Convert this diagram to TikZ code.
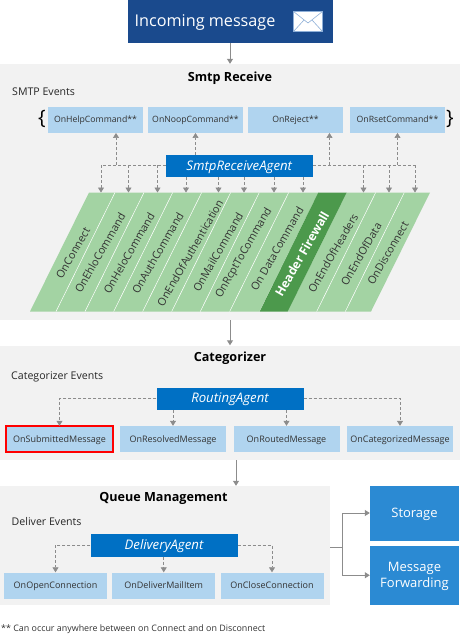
\documentclass[tikz,border=0pt]{standalone}
\usepackage{fontspec}
\setmainfont{Open Sans}
\usetikzlibrary{arrows.meta,calc}
\definecolor{navy}{HTML}{1A4A8D}
\definecolor{panelgray}{HTML}{F2F2F2}
\definecolor{evtblue}{HTML}{B0D4EF}
\definecolor{agentblue}{HTML}{0070C4}
\definecolor{sinkblue}{HTML}{2B8AD3}
\definecolor{cellgreen}{HTML}{A3D3A3}
\definecolor{fwgreen}{HTML}{4C994C}
\definecolor{linegray}{HTML}{8C8C8C}
\definecolor{envline}{HTML}{8FB0D8}
\tikzset{
  panel/.style={fill=panelgray,draw=none,inner sep=0pt},
  title/.style={font=\fontsize{12.6}{14}\selectfont\bfseries,text=black,inner sep=0pt},
  sub/.style={font=\fontsize{10.6}{12}\selectfont,text=black!85,anchor=west,inner sep=0pt},
  evt/.style={fill=evtblue,draw=none,minimum height=26pt,inner sep=0pt,text height=7pt,text depth=1pt,font=\fontsize{9}{10}\selectfont,text=black!80},
  agent/.style={fill=agentblue,draw=none,minimum height=22.5pt,minimum width=147pt,inner sep=0pt,text height=9pt,text depth=1pt,font=\fontsize{13.2}{15}\selectfont\itshape,text=white},
  sink/.style={fill=sinkblue,draw=none,minimum width=89pt,inner sep=0pt,align=center,text depth=0pt,font=\fontsize{13}{16}\selectfont,text=white},
  celltext/.style={rotate=60,inner sep=0pt,font=\fontsize{10.8}{12}\selectfont,text=black!80},
  dashline/.style={draw=linegray,densely dashed,line width=0.7pt},
  dasharrow/.style={dashline,-{Triangle[width=6pt,length=5pt,fill=linegray]}},
  flow/.style={draw=linegray,line width=1pt,-{Triangle[width=6pt,length=5pt,fill=linegray]}},
  flowplain/.style={draw=linegray,line width=1pt},
}
\begin{document}
\begin{tikzpicture}[x=1pt,y=-1pt]
\useasboundingbox (0,0) rectangle (460,640);
% panels
\node[panel,minimum width=460pt,minimum height=256pt] (p1) at (230,192) {};
\node[panel,minimum width=460pt,minimum height=114.5pt] (p2) at (230,402.75) {};
\node[panel,minimum width=330pt,minimum height=119pt] (p3) at (165,545.5) {};
% incoming
\node[fill=navy,minimum width=205pt,minimum height=43pt,inner sep=0pt] (in) at (230,21.5) {};
\node[anchor=west,inner sep=0pt,text=white,font=\fontsize{16.2}{18}\selectfont] (intext) at (134.5,22.5) {Incoming message};
\draw[fill=white,draw=envline,line width=0.6pt] (293.5,11.5) rectangle (322.5,31.5);
\draw[draw=envline,line width=0.6pt] (293.5,11.5) -- (308,23) -- (322.5,11.5) (293.5,31.5) -- (304,20) (322.5,31.5) -- (312,20);
% Smtp Receive
\node[title] (t1) at (230,78) {Smtp Receive};
\node[sub] (s1) at (12,92) {SMTP Events};
\node[evt,minimum width=95pt,font=\fontsize{8.7}{10}\selectfont] (help) at (95.5,119.75) {OnHelpCommand**};
\node[evt,minimum width=95pt,font=\fontsize{8.7}{10}\selectfont] (noop) at (195.5,119.75) {OnNoopCommand**};
\node[evt,minimum width=95pt,font=\fontsize{8.7}{10}\selectfont] (rej) at (295.5,119.75) {OnReject**};
\node[evt,minimum width=95pt,font=\fontsize{8.7}{10}\selectfont] (rset) at (397.5,119.75) {OnRsetCommand**};
\node[inner sep=0pt,font=\fontsize{20}{22}\selectfont] (lb) at (42,119) {\{};
\node[inner sep=0pt,font=\fontsize{20}{22}\selectfont] (rb) at (450,119) {\}};
\node[agent] (sra) at (239.25,166) {SmtpReceiveAgent};
% green cells
\foreach \a/\b in {89/115,115/144,144/172.7,172.7/201.7,201.7/230.7,230.7/259.3,259.3/288.7,288.7/318.3,346.7/375.7,375.7/404.3,404.3/430}
  \fill[cellgreen] (\a,192.5) -- (\b,192.5) -- ({\b-59},311.5) -- ({\a-59},311.5) -- cycle;
\fill[fwgreen] (318.3,192.5) -- (346.7,192.5) -- (287.7,311.5) -- (259.7,311.5) -- cycle;
\foreach \a in {115,144,172.7,201.7,230.7,259.3,288.7,375.7,404.3}
  \draw[white,line width=0.5pt] (\a,192.5) -- ({\a-59},311.5);
\node[celltext] (c1) at (73,253) {OnConnect};
\node[celltext] (c2) at (100,253) {OnEhloCommand};
\node[celltext] (c3) at (129,253) {OnHeloCommand};
\node[celltext] (c4) at (157.7,253) {OnAuthCommand};
\node[celltext] (c5) at (190,253) {OnEndOfAuthentication};
\node[celltext] (c6) at (218,252) {OnMailCommand};
\node[celltext] (c7) at (244,253) {OnRcptToCommand};
\node[celltext] (c8) at (277,249) {On DataCommand};
\node[celltext,text=white,font=\fontsize{12.2}{14}\selectfont\bfseries] (c9) at (302,254) {Header Firewall};
\node[celltext] (c10) at (333,253) {OnEndOfHeaders};
\node[celltext] (c11) at (361,254) {OnEndOfData};
\node[celltext] (c12) at (388,253) {OnDisconnect};
% top-edge targets
\foreach \n/\x in {a/101,b/128.5,c/157.5,d/186,e/218.5,f/244,g/274,h/303,i/363.5,j/389,k/415}
  \coordinate (top\n) at (\x,192.5);
\coordinate (busl) at (101,165);
\coordinate (busr) at (415,165);
\coordinate (tapl) at (116,165);
\coordinate (tapr) at (329.5,165);
% SMTP connectors
\draw[dashline] (sra.west |- busl) -- (busl);
\draw[dashline] (sra.east |- busr) -- (busr);
\draw[dasharrow] (tapl) -- (tapl |- help.south);
\draw[dasharrow] (sra.north -| noop) -- (noop.south);
\draw[dasharrow] (tapr) -- (tapr |- rej.south);
\draw[dasharrow] (rset.south |- busr) -- (rset.south);
\foreach \n in {a,b,c,i,j,k}
  \draw[dasharrow] (top\n |- busl) -- (top\n);
\foreach \n in {d,e,f,g,h}
  \draw[dasharrow] (sra.south -| top\n) -- (top\n);
% flow arrows
\draw[flow] (in.south) -- (in.south |- p1.north);
\draw[flow] (p1.south) -- (p2.north);
% Categorizer
\node[title] (t2) at (230,358.5) {Categorizer};
\node[sub] (s2) at (11,376.5) {Categorizer Events};
\node[agent] (ra) at (230,398.75) {RoutingAgent};
\node[evt,minimum width=106pt] (sub) at (59.5,439) {OnSubmittedMessage};
\draw[red,line width=2pt] (sub.south west) rectangle (sub.north east);
\node[evt,minimum width=106pt] (res) at (173,439) {OnResolvedMessage};
\node[evt,minimum width=106pt] (rou) at (286.5,439) {OnRoutedMessage};
\node[evt,minimum width=106pt] (cat) at (400,439) {OnCategorizedMessage};
\draw[dasharrow] (ra.west) -| (sub.north);
\draw[dasharrow] (ra.east) -| (cat.north);
\draw[dasharrow] (ra.south -| res) -- (res.north);
\draw[dasharrow] (ra.south -| rou) -- (rou.north);
\coordinate (p2out) at (236,460);
\draw[flow] (p2out) -- (p2out |- p3.north);
% Queue
\node[title] (t3) at (163.5,498.5) {Queue Management};
\node[sub] (s3) at (11.5,521.5) {Deliver Events};
\node[agent] (da) at (164,545.25) {DeliveryAgent};
\node[evt,minimum width=103pt] (op) at (55.5,585.5) {OnOpenConnection};
\node[evt,minimum width=103pt] (del) at (163.75,585.5) {OnDeliverMailItem};
\node[evt,minimum width=103pt] (cl) at (272,585.5) {OnCloseConnection};
\draw[dasharrow] (da.west) -| (op.north);
\draw[dasharrow] (da.east) -| (cl.north);
\draw[dasharrow] (da.south -| del) -- (del.north);
% sinks
\node[sink,minimum height=55pt] (st) at (414.5,513) {Storage};
\node[sink,minimum height=59.5pt] (mf) at (414.5,575.25) {Message\\Forwarding};
\coordinate (j) at (342.5,547);
\draw[flowplain] (j -| p3.east) -- (j);
\draw[flow] (j) |- (st.west);
\draw[flow] (j) |- (mf.west);
% footer
\node[anchor=west,inner sep=0pt,text=black!80,font=\fontsize{8.9}{10}\selectfont] (fn) at (1,629.5) {** Can occur anywhere between on Connect and on Disconnect};
\end{tikzpicture}
\end{document}
